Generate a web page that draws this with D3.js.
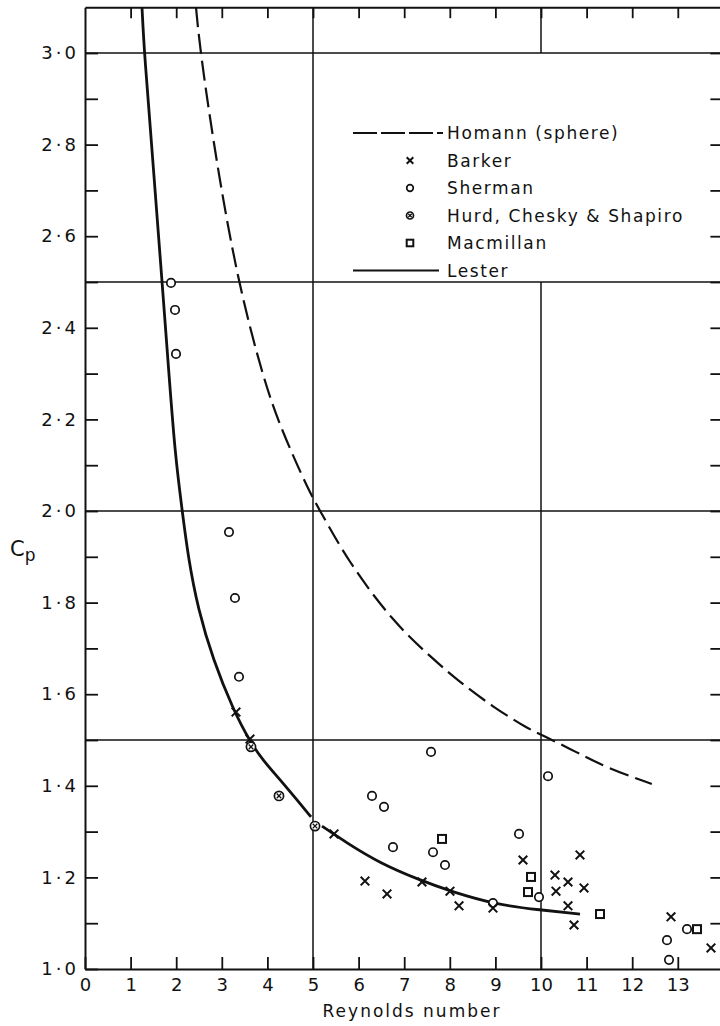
<!DOCTYPE html>
<html><head><meta charset="utf-8">
<script src="https://cdn.jsdelivr.net/npm/d3@7"></script>
<style>
body{margin:0;background:#fff}
svg{display:block;background:#fff}
text{font-family:"DejaVu Sans",sans-serif;fill:#111}
</style>
</head><body>
<svg id="c" width="720" height="1026"></svg>
<script>
// ---------- data ----------
const xTickValues = [0,1,2,3,4,5,6,7,8,9,10,11,12,13];
const xTickLabels = ["0","1","2","3","4","5","6","7","8","9","10","11","12","13"];
const yLabelValues = [1.0,1.2,1.4,1.6,1.8,2.0,2.2,2.4,2.6,2.8,3.0];
const yTickLabels = ["1·0","1·2","1·4","1·6","1·8","2·0","2·2","2·4","2·6","2·8","3·0"];
const yMinorValues = [1.1,1.2,1.3,1.4,1.5,1.6,1.7,1.8,1.9,2.0,2.1,2.2,2.3,2.4,2.5,2.6,2.7,2.8,2.9,3.0];
const hGrid = [1.5,2.0,2.5,3.0];

// Lester (solid) — drawn in two pieces as in the original
const lesterUpper = [[1.25,3.10],[1.30,3.0],[1.50,2.75],[1.69,2.50],[1.84,2.30],[1.98,2.12],[2.12,2.01],[2.26,1.90],[2.48,1.785],[2.81,1.675],[3.25,1.566],[3.62,1.496],[3.90,1.456],[4.28,1.413],[4.65,1.369],[4.956,1.332]];
const lesterLower = [[5.197,1.312],[5.746,1.275],[6.469,1.231],[7.346,1.194],[8.004,1.170],[9.035,1.140],[9.978,1.129],[10.855,1.120]];
// Homann (sphere) — dashed
const homann = [[2.434,3.10],[2.53,3.0],[2.90,2.75],[3.36,2.498],[3.90,2.293],[4.28,2.183],[4.93,2.039],[5.15,2.002],[5.75,1.893],[6.75,1.758],[7.61,1.679],[8.16,1.631],[8.95,1.572],[9.69,1.526],[10.02,1.511],[10.81,1.472],[11.45,1.439],[12.43,1.404]];

const barker = [[3.311,1.561],[3.618,1.502],[5.461,1.295],[6.140,1.192],[6.623,1.164],[7.390,1.190],[8.004,1.170],[8.202,1.138],[8.947,1.133],[9.605,1.238],[10.307,1.205],[10.329,1.170],[10.592,1.190],[10.592,1.138],[10.724,1.096],[10.855,1.249],[10.943,1.177],[12.851,1.114],[13.728,1.046]];
const sherman = [[1.886,2.498],[1.974,2.439],[1.996,2.343],[3.158,1.954],[3.289,1.810],[3.377,1.638],[7.588,1.474],[10.154,1.421],[6.294,1.378],[6.557,1.354],[9.518,1.295],[6.754,1.266],[7.632,1.255],[7.895,1.227],[9.956,1.157],[8.947,1.144],[12.763,1.063],[12.807,1.020],[13.202,1.087]];
const hurd = [[3.640,1.485],[4.254,1.378],[5.044,1.312]];
const macmillan = [[7.829,1.284],[9.781,1.201],[9.715,1.168],[11.294,1.120],[13.421,1.087]];

const legendItems = ["Homann (sphere)","Barker","Sherman","Hurd, Chesky & Shapiro","Macmillan","Lester"];

// ---------- chart ----------
const svg = d3.select("#c");
const x = d3.scaleLinear().domain([0,14]).range([85,723.4]);
const y = d3.scaleLinear().domain([1,3.1]).range([969,7.2]);
const ink = "#111";

// grid
const g = svg.append("g").attr("stroke",ink).attr("stroke-width",1.5);
g.selectAll("line.h").data(hGrid).join("line")
  .attr("x1",x(0)).attr("x2",x(14)).attr("y1",d=>y(d)).attr("y2",d=>y(d));
g.append("line").attr("x1",x(5)).attr("x2",x(5)).attr("y1",y(1)).attr("y2",y(3.1));
g.append("line").attr("x1",x(10)).attr("x2",x(10)).attr("y1",y(1)).attr("y2",y(2.5));
g.append("line").attr("x1",x(10)).attr("x2",x(10)).attr("y1",y(3.0)).attr("y2",y(3.1));

function styleAxis(sel){
  sel.select(".domain").attr("stroke",ink).attr("stroke-width",2);
  sel.selectAll(".tick line").attr("stroke",ink).attr("stroke-width",1.8);
}

// left axis
const yFmt = d => { const i = yLabelValues.findIndex(v=>Math.abs(v-d)<1e-6); return i>=0 ? yTickLabels[i] : ""; };
svg.append("g").attr("transform",`translate(${x(0)},0)`)
  .call(d3.axisLeft(y).tickValues([1.0].concat(yMinorValues)).tickSize(-13).tickSizeOuter(0).tickPadding(6).tickFormat(yFmt))
  .call(styleAxis)
  .call(s=>s.selectAll(".tick text").attr("font-size",18).attr("letter-spacing","3px").attr("fill",ink).attr("font-family","DejaVu Sans"));

// bottom axis
svg.append("g").attr("transform",`translate(0,${y(1)})`)
  .call(d3.axisBottom(x).tickValues(xTickValues).tickSize(-12).tickSizeOuter(0).tickPadding(9).tickFormat((d,i)=>xTickLabels[i]))
  .call(styleAxis)
  .call(s=>s.selectAll(".tick text").attr("font-size",18).attr("fill",ink).attr("font-family","DejaVu Sans"));

// top axis
svg.append("g").attr("transform",`translate(0,${y(3.1)})`)
  .call(d3.axisTop(x).tickValues(xTickValues.slice(1)).tickSize(-11).tickSizeOuter(0).tickFormat(""))
  .call(styleAxis);

// right axis
svg.append("g").attr("transform",`translate(${x(14)},0)`)
  .call(d3.axisRight(y).tickValues(yMinorValues).tickSize(-13).tickSizeOuter(0).tickFormat(""))
  .call(styleAxis);

// curves
const line = d3.line().x(d=>x(d[0])).y(d=>y(d[1])).curve(d3.curveBasis);
svg.append("path").datum(homann).attr("d",line).attr("fill","none").attr("stroke",ink).attr("stroke-width",2.2).attr("stroke-dasharray","20,7");
[lesterUpper,lesterLower].forEach(p=>{
  svg.append("path").datum(p).attr("d",line).attr("fill","none").attr("stroke",ink).attr("stroke-width",2.8);
});

// markers
function drawX(sel,cx,cy,s){
  sel.append("path").attr("d",`M${cx-s},${cy-s}L${cx+s},${cy+s}M${cx-s},${cy+s}L${cx+s},${cy-s}`)
    .attr("stroke",ink).attr("stroke-width",2).attr("fill","none");
}
function drawO(sel,cx,cy,r){
  sel.append("circle").attr("cx",cx).attr("cy",cy).attr("r",r).attr("fill","#fff").attr("stroke",ink).attr("stroke-width",1.7);
}
function drawH(sel,cx,cy,r){
  sel.append("circle").attr("cx",cx).attr("cy",cy).attr("r",r).attr("fill","#fff").attr("stroke",ink).attr("stroke-width",1.7);
  const s=r*0.5;
  sel.append("path").attr("d",`M${cx-s},${cy-s}L${cx+s},${cy+s}M${cx-s},${cy+s}L${cx+s},${cy-s}`).attr("stroke",ink).attr("stroke-width",1.3);
}
function drawS(sel,cx,cy,s){
  sel.append("rect").attr("x",cx-s).attr("y",cy-s).attr("width",2*s).attr("height",2*s).attr("fill","#fff").attr("stroke",ink).attr("stroke-width",2);
}
const mk = svg.append("g");
sherman.forEach(d=>drawO(mk,x(d[0]),y(d[1]),4.2));
hurd.forEach(d=>drawH(mk,x(d[0]),y(d[1]),4.6));
macmillan.forEach(d=>drawS(mk,x(d[0]),y(d[1]),4));
barker.forEach(d=>drawX(mk,x(d[0]),y(d[1]),4.3));

// legend
const lg = svg.append("g");
const lx0 = 353, lx1 = 443, mx = 410, tx = 447, ly0 = 133, dy = 27.5;
lg.append("rect").attr("x",348).attr("y",118).attr("width",345).attr("height",162).attr("fill","#fff");
lg.append("line").attr("x1",lx0).attr("x2",lx1).attr("y1",ly0).attr("y2",ly0).attr("stroke",ink).attr("stroke-width",1.8).attr("stroke-dasharray","24,4");
drawX(lg,mx,ly0+dy,3.3);
drawO(lg,mx,ly0+2*dy,3.3);
drawH(lg,mx,ly0+3*dy,3.5);
drawS(lg,mx,ly0+4*dy,3.3);
lg.append("line").attr("x1",lx0).attr("x2",lx1-4).attr("y1",ly0+5*dy).attr("y2",ly0+5*dy).attr("stroke",ink).attr("stroke-width",2.2);
lg.selectAll("text").data(legendItems).join("text")
  .attr("x",tx).attr("y",(d,i)=>ly0+i*dy).attr("dominant-baseline","central")
  .attr("font-size",17).attr("letter-spacing","1.6px").text(d=>d);

// axis titles
const yt = svg.append("text").attr("x",10).attr("y",556).attr("font-size",21);
yt.append("tspan").text("C");
yt.append("tspan").attr("font-size",17).attr("dy",5).text("p");
svg.append("text").attr("x",412).attr("y",1017).attr("text-anchor","middle").attr("font-size",17).attr("letter-spacing","2px").text("Reynolds number");
</script>
</body></html>
